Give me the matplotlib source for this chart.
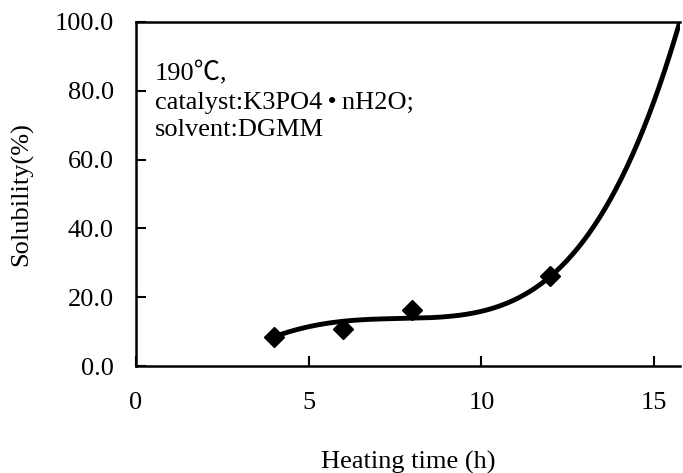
import numpy as np
import matplotlib
matplotlib.use("Agg")
import matplotlib.pyplot as plt

plt.rcParams['font.family'] = ['Liberation Serif', 'DejaVu Serif']

# measured data points
time_h = [4, 6, 8, 12]
solubility = [8.4, 10.8, 16.3, 26.2]

# points
curve_x = [4, 5, 6, 8, 9, 10, 11, 12, 13.76, 14.97, 15.75]
curve_y = [8.5, 11.6, 12.8, 14.2, 14.5, 15.1, 19.8, 26.7, 48, 77, 100]

x_ticks = [0, 5, 10, 15]
y_ticks = [0, 20, 40, 60, 80, 100]

fig = plt.figure(figsize=(6.83, 4.73), dpi=100)
ax = fig.add_axes([0.199, 0.226, 0.7966, 0.7275])

coef = np.polyfit(curve_x, curve_y, 5)
xs = np.linspace(curve_x[0], curve_x[-1], 300)
ax.plot(xs, np.polyval(coef, xs), color='black', lw=3.5, solid_capstyle='round', zorder=2)
ax.plot(time_h, solubility, linestyle='none', marker='D', color='black', markersize=10, zorder=3)

ax.set_xlim(0, 15.75)
ax.set_ylim(0, 100)
ax.set_xticks(x_ticks)
ax.set_xticklabels([str(v) for v in x_ticks])
ax.set_yticks(y_ticks)
ax.set_yticklabels([f"{v:.1f}" for v in y_ticks])
ax.tick_params(direction='in', length=7, width=1.5, labelsize=19)
ax.tick_params(axis='x', pad=19)
ax.tick_params(axis='y', pad=16)
for s in ['left', 'bottom', 'top']:
    ax.spines[s].set_linewidth(1.8)
ax.spines['right'].set_visible(False)

ax.set_ylabel('Solubility(%)', fontsize=19)
ax.yaxis.set_label_coords(-0.21, 0.5)
ax.set_xlabel('Heating time (h)', fontsize=19)
ax.xaxis.set_label_coords(0.5, -0.279)
ax.xaxis.label.set_va('center')
ax.yaxis.label.set_va('center')

ax.text(0.035, 0.885, '190\u2103,\ncatalyst:K3PO4\u2009\u2022\u2009nH2O;\nsolvent:DGMM',
        transform=ax.transAxes, fontsize=19, va='top', ha='left', linespacing=1.35,
        family=['Liberation Serif', 'Noto Sans CJK SC', 'DejaVu Serif'])

fig.savefig('out.png', dpi=100)
